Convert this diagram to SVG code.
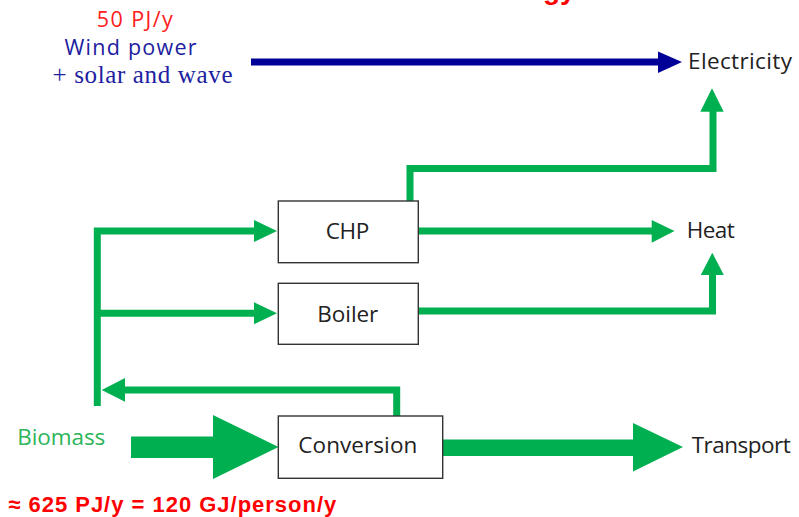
<svg xmlns="http://www.w3.org/2000/svg" width="799" height="517" viewBox="0 0 799 517">
<style>
.lbl{font-family:"Open Sans","Liberation Sans",sans-serif;font-size:22.5px;fill:#222}
.box{fill:#fff;stroke:#333;stroke-width:1.4}
.g{fill:none;stroke:#00B050;stroke-width:7;stroke-linejoin:miter}
.gh{fill:#00B050}
</style>
<rect width="799" height="517" fill="#fff"/>
<text x="543" y="-1.5" font-family="Liberation Sans,Arial,sans-serif" font-weight="bold" font-size="28" fill="#FF0000">gy</text>
<g id="connectors">
  <line x1="251" y1="62" x2="660" y2="62" stroke="#000099" stroke-width="7"/>
  <polygon points="658,51.5 682,62 658,73" fill="#000099"/>
  <polyline class="g" points="97.3,406 97.3,231 256,231"/>
  <polygon class="gh" points="254,220 277,231 254,242"/>
  <line class="g" x1="97.3" y1="313.3" x2="256" y2="313.3"/>
  <polygon class="gh" points="254,302.3 277,313.3 254,324.3"/>
  <polyline class="g" points="410,201 410,168.5 713,168.5 713,110"/>
  <polygon class="gh" points="700.3,111.7 712,88.3 723.7,111.7"/>
  <line class="g" x1="418" y1="231" x2="654" y2="231"/>
  <polygon class="gh" points="651.7,220 674.5,231 651.7,242.7"/>
  <polyline class="g" points="418,311 712.5,311 712.5,273"/>
  <polygon class="gh" points="700.8,275 712.3,252.7 723.8,275"/>
  <polyline class="g" points="396.7,416 396.7,390 123,390"/>
  <polygon class="gh" points="125,378 101.7,390 125,401.7"/>
  <polygon class="gh" points="131,436.5 213,436.5 213,415 278.5,447 213,479 213,458 131,458"/>
  <polygon class="gh" points="443,439.5 633,439.5 633,423 683,447 633,471.5 633,456 443,456"/>
</g>
<g id="chp">
  <rect class="box" x="278.3" y="201" width="140" height="61.7"/>
  <text class="lbl" x="347.5" y="239.3" text-anchor="middle" textLength="43.6">CHP</text>
</g>
<g id="boiler">
  <rect class="box" x="278.3" y="283.3" width="140" height="61"/>
  <text class="lbl" x="347.8" y="321.7" text-anchor="middle" textLength="61">Boiler</text>
</g>
<g id="conversion">
  <rect class="box" x="278.3" y="416" width="164.4" height="62.3"/>
  <text class="lbl" x="357.8" y="452.7" text-anchor="middle" textLength="119">Conversion</text>
</g>
<g id="wind">
  <text x="134.8" y="26.7" text-anchor="middle" font-family="Open Sans,Liberation Sans,sans-serif" font-size="21.5" fill="#FF2020" textLength="76">50 PJ/y</text>
  <text x="130.5" y="55" text-anchor="middle" font-family="Open Sans,Liberation Sans,sans-serif" font-size="21.5" fill="#2020A0" textLength="132">Wind power</text>
  <text x="142.5" y="83" text-anchor="middle" font-family="Liberation Serif,Times New Roman,serif" font-size="25" fill="#2020A0" textLength="180">+ solar and wave</text>
</g>
<g id="electricity">
  <text class="lbl" x="688" y="69.3" textLength="104">Electricity</text>
</g>
<g id="heat">
  <text class="lbl" x="686.7" y="238" textLength="48">Heat</text>
</g>
<g id="transport">
  <text class="lbl" x="691.7" y="453" textLength="99">Transport</text>
</g>
<g id="biomass">
  <text x="17.3" y="445" font-family="Open Sans,Liberation Sans,sans-serif" font-size="22.5" fill="#2DB55A" textLength="88">Biomass</text>
  <text x="8.3" y="511.5" font-family="Liberation Sans,Arial,sans-serif" font-weight="bold" font-size="22" fill="#FF0000" textLength="328">≈ 625 PJ/y = 120 GJ/person/y</text>
</g>
</svg>
